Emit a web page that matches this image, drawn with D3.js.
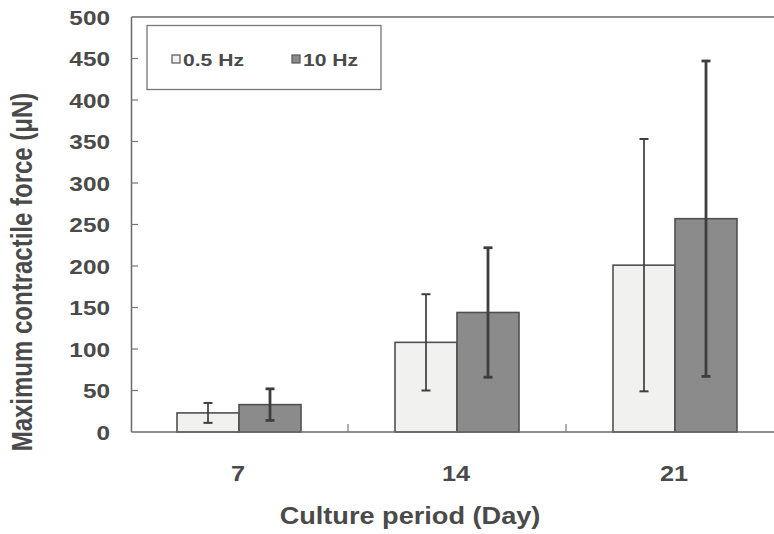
<!DOCTYPE html>
<html>
<head>
<meta charset="utf-8">
<script src="https://cdn.jsdelivr.net/npm/d3@7"></script>
<style>
  body { margin: 0; background: #fff; }
  svg text { font-family: 'Liberation Sans', Arial, sans-serif; font-weight: bold; fill: #4a4a4a; }
</style>
</head>
<body>
<div class="chart"></div>
<script>
// Max contractile force by culture day, two stimulation frequencies (mean +/- SD)
var days = ['7', '14', '21']
var series = ['0.5 Hz', '10 Hz']
var meanLow  = [23, 108, 201]     // 0.5 Hz
var sdLow    = [12, 58, 152]
var meanHigh = [33, 144, 257]     // 10 Hz
var sdHigh   = [19, 78, 190]
var yTicks = [0, 50, 100, 150, 200, 250, 300, 350, 400, 450, 500]

var rows = []
days.forEach(function(d, i){
  rows.push({day: d, s: series[0], v: meanLow[i], sd: sdLow[i]})
  rows.push({day: d, s: series[1], v: meanHigh[i], sd: sdHigh[i]})
})

var W = 774, H = 534
var svg = d3.select('.chart').append('svg').attr('width', W).attr('height', H)

// plot runs off the right edge of the picture (the source was cropped)
var x0 = d3.scaleBand().domain(days).range([130, 784])
var bw = x0.bandwidth()
var barW = 62
var x1 = d3.scaleBand().domain(series).range([bw / 2 - barW, bw / 2 + barW])
var y = d3.scaleLinear().domain([0, 500]).range([432, 17])

var fills = {'0.5 Hz': '#f1f1ef', '10 Hz': '#8b8b8b'}

// frame: left axis, top line
svg.append('line').attr('x1', 131.5).attr('x2', 131.5).attr('y1', y(500)).attr('y2', y(0))
  .attr('stroke', '#6a6a6a').attr('stroke-width', 1.5)
svg.append('line').attr('x1', 131.5).attr('x2', W).attr('y1', y(500)).attr('y2', y(500))
  .attr('stroke', '#6a6a6a').attr('stroke-width', 1.5)

// inward y ticks
svg.selectAll('line.yt').data(yTicks.filter(function(t){ return t > 0 && t < 500 })).enter()
  .append('line').attr('class', 'yt')
  .attr('x1', 131.5).attr('x2', 138).attr('y1', y).attr('y2', y)
  .attr('stroke', '#777').attr('stroke-width', 1.2)

// y tick labels (the scan is a bit wide, so text is stretched sideways)
svg.selectAll('text.yl').data(yTicks).enter().append('text').attr('class', 'yl')
  .attr('transform', function(d){ return 'translate(110,' + (y(d) + 7.5) + ') scale(1.16,1)' })
  .attr('text-anchor', 'end').attr('font-size', 21).text(function(d){ return d })

// bars
svg.selectAll('rect.bar').data(rows).enter().append('rect').attr('class', 'bar')
  .attr('x', function(d){ return x0(d.day) + x1(d.s) })
  .attr('width', x1.bandwidth())
  .attr('y', function(d){ return y(d.v) })
  .attr('height', function(d){ return y(0) - y(d.v) })
  .attr('fill', function(d){ return fills[d.s] })
  .attr('stroke', '#505050').attr('stroke-width', 1.6)

// error bars
var eb = svg.selectAll('g.err').data(rows).enter().append('g').attr('class', 'err')
  .attr('transform', function(d){ return 'translate(' + (x0(d.day) + x1(d.s) + x1.bandwidth() / 2) + ',0)' })
eb.append('line')
  .attr('y1', function(d){ return y(d.v + d.sd) }).attr('y2', function(d){ return y(d.v - d.sd) })
  .attr('stroke', '#3e3e3e').attr('stroke-width', function(d){ return d.s == '10 Hz' ? 2.8 : 1.7 })
eb.selectAll('line.cap').data(function(d){ return [d.v + d.sd, d.v - d.sd].map(function(v){ return {v: v, s: d.s} }) })
  .enter().append('line').attr('class', 'cap')
  .attr('x1', -4.5).attr('x2', 4.5).attr('y1', function(c){ return y(c.v) }).attr('y2', function(c){ return y(c.v) })
  .attr('stroke', '#3e3e3e').attr('stroke-width', function(c){ return c.s == '10 Hz' ? 2.8 : 2 })

// baseline + category separators
svg.append('line').attr('x1', 131.5).attr('x2', W).attr('y1', y(0)).attr('y2', y(0))
  .attr('stroke', '#6a6a6a').attr('stroke-width', 1.6)
svg.selectAll('line.sep').data(days.slice(1)).enter().append('line').attr('class', 'sep')
  .attr('x1', function(d){ return x0(d) }).attr('x2', function(d){ return x0(d) })
  .attr('y1', y(0)).attr('y2', y(0) - 8)
  .attr('stroke', '#777').attr('stroke-width', 1.2)

// x tick labels
svg.selectAll('text.xl').data(days).enter().append('text').attr('class', 'xl')
  .attr('transform', function(d){ return 'translate(' + (x0(d) + bw / 2 - 1) + ',481) scale(1.15,1)' })
  .attr('text-anchor', 'middle').attr('font-size', 22).text(function(d){ return d })

// axis titles
svg.append('text').attr('transform', 'translate(410,524) scale(1.18,1)')
  .attr('text-anchor', 'middle').attr('font-size', 23).text('Culture period (Day)')
svg.append('text').attr('transform', 'translate(32,272) scale(1.22,1) rotate(-90)')
  .attr('text-anchor', 'middle').attr('font-size', 24).text('Maximum contractile force (μN)')

// legend
var lg = svg.append('g')
lg.append('rect').attr('x', 147).attr('y', 25.5).attr('width', 234).attr('height', 64)
  .attr('fill', '#fff').attr('stroke', '#777').attr('stroke-width', 1.3)
var items = lg.selectAll('g.li').data(series).enter().append('g').attr('class', 'li')
  .attr('transform', function(d, i){ return 'translate(' + [172, 292][i] + ',0)' })
items.append('rect').attr('x', 0).attr('y', 55).attr('width', 8).attr('height', 8)
  .attr('fill', function(d){ return fills[d] }).attr('stroke', '#555').attr('stroke-width', 1.2)
items.append('text').attr('transform', 'translate(11,65.5) scale(1.28,1)')
  .attr('font-size', 16.5).text(function(d){ return d })
</script>
</body>
</html>
